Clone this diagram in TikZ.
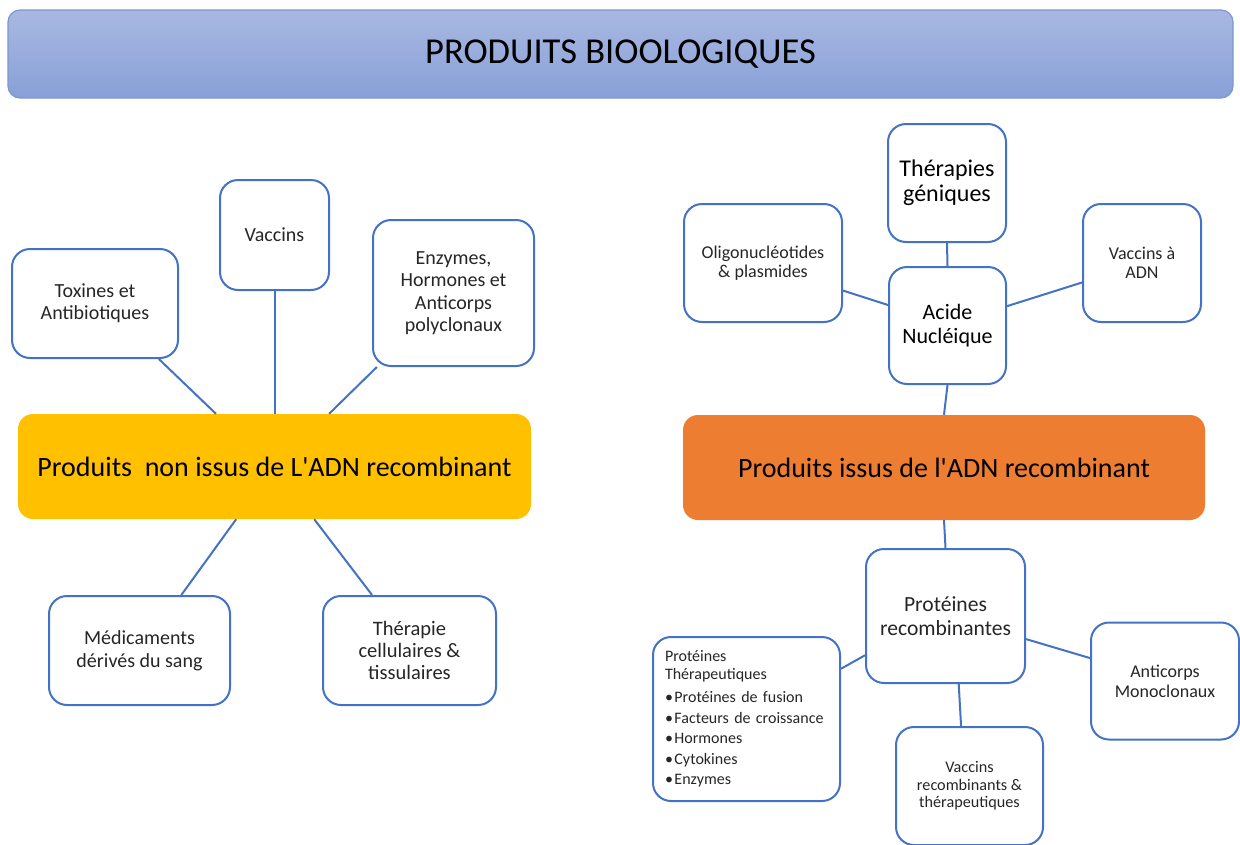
\documentclass[tikz,border=0pt]{standalone}
\usepackage{fontspec}
\setmainfont{Carlito}
\newfontfamily\apofont{Carlito}
\newcommand{\apo}{{\apofont\char39}}
\newcommand{\fsz}[2]{\fontsize{#1pt}{#2pt}\selectfont}
\definecolor{bblue}{HTML}{4472C4}
\definecolor{ttop}{HTML}{A9B8E1}
\definecolor{tbot}{HTML}{88A0D8}
\definecolor{tbord}{HTML}{7D97D0}
\definecolor{yel}{HTML}{FFC000}
\definecolor{org}{HTML}{ED7D31}
\definecolor{txt}{HTML}{262626}
\tikzset{
  box/.style={draw=bblue, line width=2pt, fill=white, rounded corners=18pt,
    inner sep=0pt, align=center, text=txt},
  hub/.style={rounded corners=15pt, inner sep=0pt, align=center, text=black},
  link/.style={draw=bblue, line width=2pt}
}
\begin{document}
\begin{tikzpicture}[x=1pt,y=-1pt]
\useasboundingbox (0,0) rectangle (1240,844);
\fill[white] (0,0) rectangle (1240,844);

% title
\node[draw=tbord, line width=1.2pt, top color=ttop, bottom color=tbot, rounded corners=12pt,
  minimum width=1225, minimum height=88, inner sep=0pt, font=\fsz{36.5}{40}] (title) at (620.5,54) {PRODUITS BIOOLOGIQUES};

% hubs
\node[hub, fill=yel, minimum width=513, minimum height=105, font=\fsz{28}{32}] (yel) at (274.5,466.5) {Produits\ \ non issus de L\apo ADN recombinant};
\node[hub, fill=org, minimum width=522, minimum height=105, font=\fsz{28}{32}] (org) at (944,467.5) {Produits issus de l\apo ADN recombinant};

% left boxes
\node[box, minimum width=166, minimum height=109, font=\fsz{20}{22}] (tox) at (95,303.5) {Toxines et\\Antibiotiques};
\node[box, minimum width=109, minimum height=110, font=\fsz{20}{22}] (vac) at (274.5,235) {Vaccins};
\node[box, minimum width=161, minimum height=146, font=\fsz{20}{22.5}] (enz) at (453.5,293) {Enzymes,\\Hormones et\\Anticorps\\polyclonaux};
\node[box, minimum width=181, minimum height=109, font=\fsz{20}{23}] (med) at (139.5,650.5) {Médicaments\\dérivés du sang};
\node[box, minimum width=173, minimum height=109, font=\fsz{20.5}{22}] (the) at (409.5,650.5) {Thérapie\\cellulaires \&\\tissulaires};

% right top boxes
\node[box, minimum width=118, minimum height=118, font=\fsz{24}{25}, text=black] (gen) at (947,183) {Thérapies\\géniques};
\node[box, minimum width=158, minimum height=118, font=\fsz{18}{19}] (oli) at (763,263) {Oligonucléotides\\\& plasmides};
\node[box, minimum width=118, minimum height=118, font=\fsz{18}{19}] (vadn) at (1142,263) {Vaccins à\\ADN};
\node[box, minimum width=117, minimum height=117, font=\fsz{22}{24}, text=black] (aci) at (947.5,325.5) {Acide\\Nucléique};

% right bottom boxes
\node[box, minimum width=159, minimum height=134, font=\fsz{21.6}{24}] (pr) at (945.5,616) {Protéines\\recombinantes};
\node[box, minimum width=187, minimum height=164, text width=163, inner xsep=12pt, align=left, font=\fsz{16}{18}] (pt) at (746.5,719)
  {Protéines\\Thérapeutiques\\[5pt]•\kern1.5pt Protéines de fusion\\[2.5pt]•\kern1.5pt Facteurs de croissance\\[2.5pt]•\kern1.5pt Hormones\\[2.5pt]•\kern1.5pt Cytokines\\[2.5pt]•\kern1.5pt Enzymes};
\node[box, minimum width=148, minimum height=117, font=\fsz{18}{20}] (ac) at (1165,681) {Anticorps\\Monoclonaux};
\node[box, minimum width=147, minimum height=118, font=\fsz{16.2}{17.5}] (vr) at (969.5,786) {Vaccins\\recombinants \&\\thérapeutiques};

% connectors
\draw[link] (tox.-41) -- (yel.138);
\draw[link] (vac.south) -- (yel.north);
\draw[link] (enz.224.4) -- (yel.44);
\draw[link] (yel.234.1) -- (med.53.2);
\draw[link] (yel.-53.4) -- (the.124.7);

\draw[link] (gen.south) -- (aci.north);
\draw[link] (oli.-19.5) -- (aci.161.6);
\draw[link] (vadn.198.7) -- (aci.18.4);
\draw[link] (aci.south) -- (org.north);

\draw[link] (org.south) -- (pr.north);
\draw[link] (pt.28.6) -- (pr.206.7);
\draw[link] (pr.-16.8) -- (ac.163.4);
\draw[link] (pr.-79.4) -- (vr.98.2);
\end{tikzpicture}
\end{document}
